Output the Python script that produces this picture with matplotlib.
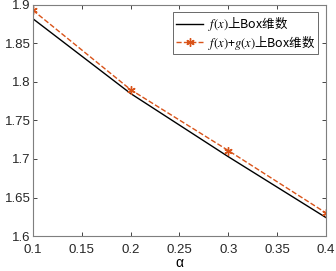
import numpy as np
import matplotlib

matplotlib.use("Agg")
import matplotlib.pyplot as plt

plt.rcParams['font.family'] = ['Liberation Sans', 'Noto Sans CJK SC', 'DejaVu Sans']
plt.rcParams['mathtext.fontset'] = 'stix'

alpha = [0.1, 0.2, 0.3, 0.4]
box_f = [1.882, 1.785, 1.703, 1.624]
box_fg = [1.893, 1.790, 1.711, 1.630]

fig = plt.figure(figsize=(3.36, 2.71), dpi=100)
ax = fig.add_axes([0.098, 0.129, 0.872, 0.853])

ax.plot(alpha, box_f, color='black', lw=1.0, label=r'$f(x)$上Box维数')
ax.plot(alpha, box_fg, color='#D95319', lw=1.0, ls='--', marker=(6, 2, 0),
        markersize=6, markeredgewidth=1.0, label=r'$f(x)$+$g(x)$上Box维数')

ax.set_xlim(0.1, 0.4)
ax.set_ylim(1.6, 1.9)
ax.set_xticks(np.arange(0.1, 0.401, 0.05))
ax.set_xticklabels(['0.1', '0.15', '0.2', '0.25', '0.3', '0.35', '0.4'])
ax.set_yticks(np.arange(1.6, 1.901, 0.05))
ax.set_yticklabels(['1.6', '1.65', '1.7', '1.75', '1.8', '1.85', '1.9'])
ax.tick_params(direction='in', length=3, width=0.6, labelsize=9.5,
               top=True, right=True, colors='#262626')
ax.tick_params(axis='y', pad=1.5)
ax.tick_params(axis='x', pad=6)
for s in ax.spines.values():
    s.set_color('#7f7f7f')
    s.set_linewidth(0.8)
ax.set_xlabel('α', fontsize=10, labelpad=0)

leg = ax.legend(loc='upper right', frameon=True, fancybox=False,
                borderpad=0.2, labelspacing=0.05, handlelength=2.2,
                handletextpad=0.4, borderaxespad=0.6,
                prop={'family': 'Noto Sans CJK SC', 'size': 9})
leg.get_frame().set_edgecolor('#262626')
leg.get_frame().set_linewidth(0.6)

fig.savefig('out.png', dpi=100)
